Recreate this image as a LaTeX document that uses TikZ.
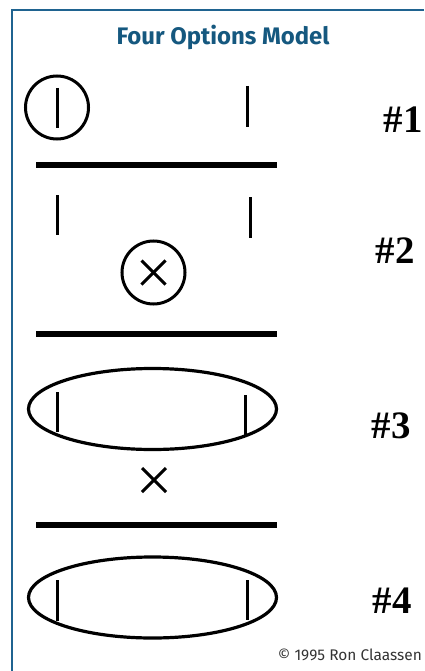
\documentclass[tikz,border=0pt]{standalone}
\usepackage{fontspec}
\usepackage{xcolor}
\usetikzlibrary{shapes.geometric}
\newfontfamily\titlefont{Fira Sans}
\newfontfamily\numfont{Liberation Serif}
\definecolor{frameblue}{HTML}{1F6390}
\definecolor{titleblue}{HTML}{15587F}

\begin{document}
\begin{tikzpicture}[
  x=1bp,y=-1bp,
  bar/.style  ={line width=6bp},
  tick/.style ={line width=3bp},
  ring/.style ={draw,circle,line width=3bp,minimum size=63bp,inner sep=0pt},
  oval/.style ={draw,ellipse,line width=3.2bp,minimum width=248bp,
                minimum height=81bp,inner sep=0pt},
  num/.style  ={font=\numfont\bfseries\fontsize{39}{41}\selectfont,inner sep=0pt},
  lbl/.style  ={inner sep=0pt}]

\useasboundingbox (0,0) rectangle (424,671);

% ---------- Frame and title ----------
\draw[frameblue,line width=2bp] (11.5,671) -- (11.5,10.5) -- (424,10.5);
\node[lbl,anchor=base,text=titleblue,font=\titlefont\bfseries\fontsize{24}{26}\selectfont]
  (title) at (223,45) {Four Options Model};

% ---------- Option 1 ----------
\node[ring] (c1) at (57,107.5) {};
\draw[tick] (57,88) -- (57,128);
\draw[tick] (247,86) -- (247,127);
\node[num,anchor=base] (n1) at (403,133) {\#1};
\draw[bar] (36,165) -- (277,165);

% ---------- Option 2 ----------
\draw[tick] (57,195) -- (57,235);
\draw[tick] (250,197) -- (250,238);
\node[ring] (c2) at (153.5,272.5) {};
\draw[tick] (141.5,260.5) -- (165.5,284.5);
\draw[tick] (141.5,284.5) -- (165.5,260.5);
\node[num,anchor=base] (n2) at (395,263) {\#2};
\draw[bar] (36,334) -- (277,334);

% ---------- Option 3 ----------
\node[oval] (e3) at (152.5,409) {};
\draw[tick] (57,392) -- (57,432);
\draw[tick] (245,395) -- (245,437);
\draw[tick] (142,468) -- (166,492);
\draw[tick] (142,492) -- (166,468);
\node[num,anchor=base] (n3) at (391,438) {\#3};
\draw[bar] (36,525) -- (277,525);

% ---------- Option 4 ----------
\node[oval] (e4) at (152.5,597.5) {};
\draw[tick] (57,580) -- (57,621);
\draw[tick] (247,580) -- (247,620);
\node[num,anchor=base] (n4) at (392,613) {\#4};

\node[lbl,anchor=base east,text=black!80,font=\titlefont\fontsize{15.5}{17}\selectfont]
  (copy) at (422,660) {© 1995 Ron Claassen};

\end{tikzpicture}
\end{document}
